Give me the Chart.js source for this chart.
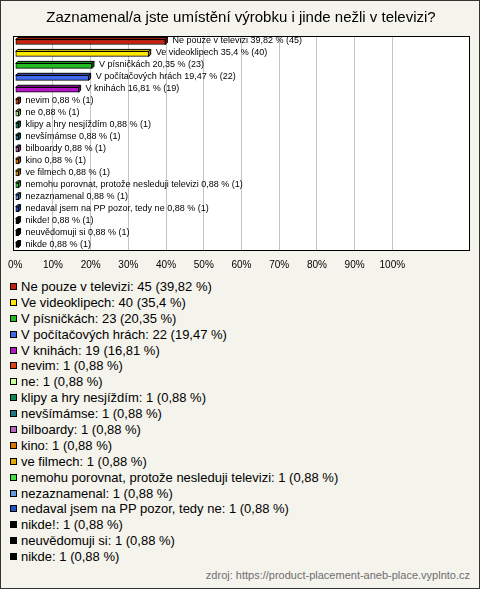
<!DOCTYPE html>
<html>
<head>
<meta charset="utf-8">
<script src="https://cdn.jsdelivr.net/npm/chart.js@4"></script>
<style>
  html, body { margin:0; padding:0; }
  body { width:480px; height:589px; overflow:hidden; }
  #wrap { position:relative; width:478px; height:587px; border:1px solid #333; background:#f4f3ec; font-family:"Liberation Sans", Arial, sans-serif; }
  #chartBox { position:absolute; left:-1px; top:-1px; width:480px; height:275px; }
  #legend { position:absolute; left:9px; top:278px; }
  .item { height:15.9px; line-height:15.9px; font-size:13px; color:#000; white-space:nowrap; position:relative; padding-left:11px; }
  .sq { position:absolute; left:0; top:4px; width:7px; height:7px; box-sizing:border-box; border:1px solid #000; }
  #src { position:absolute; right:9px; top:568px; font-size:11px; color:#6e6e6e; }
</style>
</head>
<body>
<div id="wrap">
  <div id="chartBox"><canvas id="c"></canvas></div>
  <div id="legend"></div>
  <div id="src">zdroj: https://product-placement-aneb-place.vyplnto.cz</div>
</div>
<script>
const titleText = "Zaznamenal/a jste umístění výrobku i jinde nežli v televizi?";
const categories = [
  "Ne pouze v televizi",
  "Ve videoklipech",
  "V písničkách",
  "V počítačových hrách",
  "V knihách",
  "nevim",
  "ne",
  "klipy a hry nesjíždím",
  "nevšímámse",
  "bilboardy",
  "kino",
  "ve filmech",
  "nemohu porovnat, protože nesleduji televizi",
  "nezaznamenal",
  "nedaval jsem na PP pozor, tedy ne",
  "nikde!",
  "neuvědomuji si",
  "nikde"
];
const counts = [45, 40, 23, 22, 19, 1, 1, 1, 1, 1, 1, 1, 1, 1, 1, 1, 1, 1];
const percents = [39.82, 35.4, 20.35, 19.47, 16.81, 0.88, 0.88, 0.88, 0.88, 0.88, 0.88, 0.88, 0.88, 0.88, 0.88, 0.88, 0.88, 0.88];
const colors = [
  "#c8200e", "#ffe800", "#22bb22", "#4169ee", "#b614c8",
  "#e04412", "#ccff99", "#12885a", "#1f7788", "#bb66bb",
  "#e07800", "#e0aa00", "#44e044", "#6699e6", "#2255c4",
  "#000000", "#000000", "#000000"
];
const tickValues = [0, 10, 20, 30, 40, 50, 60, 70, 80, 90, 100];
const fmt = v => String(v).replace('.', ',');

// legend (HTML)
const leg = document.getElementById('legend');
categories.forEach((c, i) => {
  const d = document.createElement('div');
  d.className = 'item';
  d.innerHTML = '<span class="sq" style="background:' + colors[i] + '"></span>' +
    c + ': ' + counts[i] + ' (' + fmt(percents[i]) + ' %)';
  leg.appendChild(d);
});

function shade(hex, f) {
  const n = parseInt(hex.slice(1), 16);
  let r = (n >> 16) & 255, g = (n >> 8) & 255, b = n & 255;
  r = Math.round(r * f); g = Math.round(g * f); b = Math.round(b * f);
  return 'rgb(' + r + ',' + g + ',' + b + ')';
}

const DEPTH = 2;
const framePlugin = {
  id: 'frame',
  beforeDraw(chart) {
    const a = chart.chartArea, ctx = chart.ctx;
    ctx.save();
    ctx.fillStyle = '#ffffff';
    ctx.fillRect(a.left - 2, a.top, a.right - a.left + 2, a.bottom - a.top);
    ctx.restore();
  },
  afterDraw(chart) {
    const a = chart.chartArea, ctx = chart.ctx;
    ctx.save();
    ctx.strokeStyle = '#000';
    ctx.lineWidth = 1;
    const l = Math.round(a.left) - 1.5, t = Math.floor(a.top) + 0.5;
    const r = Math.round(a.right) - 0.5, b = Math.round(a.bottom) - 0.5;
    ctx.strokeRect(l, t, r - l, b - t);
    ctx.restore();
  }
};
const bar3dPlugin = {
  id: 'bar3d',
  afterDatasetsDraw(chart) {
    const ctx = chart.ctx;
    const meta = chart.getDatasetMeta(0);
    ctx.save();
    ctx.lineWidth = 1;
    ctx.strokeStyle = '#000';
    meta.data.forEach((el, i) => {
      const p = el.getProps(['x', 'y', 'base', 'height'], true);
      const x0 = p.base, x1 = p.x, y0 = p.y - p.height / 2, y1 = p.y + p.height / 2;
      ctx.fillStyle = shade(colors[i], 0.85);
      ctx.beginPath();
      ctx.moveTo(x0, y0); ctx.lineTo(x0 + DEPTH, y0 - DEPTH);
      ctx.lineTo(x1 + DEPTH, y0 - DEPTH); ctx.lineTo(x1, y0); ctx.closePath();
      ctx.fill(); ctx.stroke();
      ctx.fillStyle = shade(colors[i], 0.65);
      ctx.beginPath();
      ctx.moveTo(x1, y0); ctx.lineTo(x1 + DEPTH, y0 - DEPTH);
      ctx.lineTo(x1 + DEPTH, y1 - DEPTH); ctx.lineTo(x1, y1); ctx.closePath();
      ctx.fill(); ctx.stroke();
      ctx.fillStyle = '#000';
      ctx.font = '9px "Liberation Sans", Arial, sans-serif';
      ctx.textBaseline = 'middle';
      ctx.textAlign = 'left';
      ctx.fillText(categories[i] + ' ' + fmt(percents[i]) + ' % (' + counts[i] + ')', x1 + DEPTH + 5, p.y - 1);
    });
    ctx.restore();
  }
};

new Chart(document.getElementById('c'), {
  type: 'bar',
  data: {
    labels: categories,
    datasets: [{
      data: percents,
      backgroundColor: colors,
      borderColor: '#000',
      borderWidth: 1,
      borderSkipped: false,
      barThickness: 5
    }]
  },
  options: {
    indexAxis: 'y',
    responsive: true,
    maintainAspectRatio: false,
    animation: false,
    layout: { padding: { left: 12, right: 10, top: 0, bottom: 0 } },
    plugins: {
      legend: { display: false },
      tooltip: { enabled: false },
      title: {
        display: true,
        text: titleText,
        color: '#000',
        font: { family: '"Liberation Sans", Arial, sans-serif', size: 15, weight: 'normal' },
        padding: { top: 9, bottom: 9 }
      }
    },
    scales: {
      y: { display: false },
      x: {
        min: 0,
        max: 120.6,
        afterBuildTicks(scale) {
          scale.ticks = tickValues.map(v => ({ value: v }));
        },
        afterFit(scale) { scale.height = 24; },
        border: { display: false },
        grid: {
          drawTicks: false,
          color: ctx => (ctx.tick && ctx.tick.value === 0) ? 'rgba(0,0,0,0)' : '#c4c4c4',
          lineWidth: 1
        },
        ticks: {
          padding: 8,
          maxRotation: 0,
          autoSkip: false,
          color: '#000',
          font: { family: '"Liberation Sans", Arial, sans-serif', size: 10 },
          callback: v => v + '%'
        }
      }
    }
  },
  plugins: [framePlugin, bar3dPlugin]
});
</script>
</body>
</html>
